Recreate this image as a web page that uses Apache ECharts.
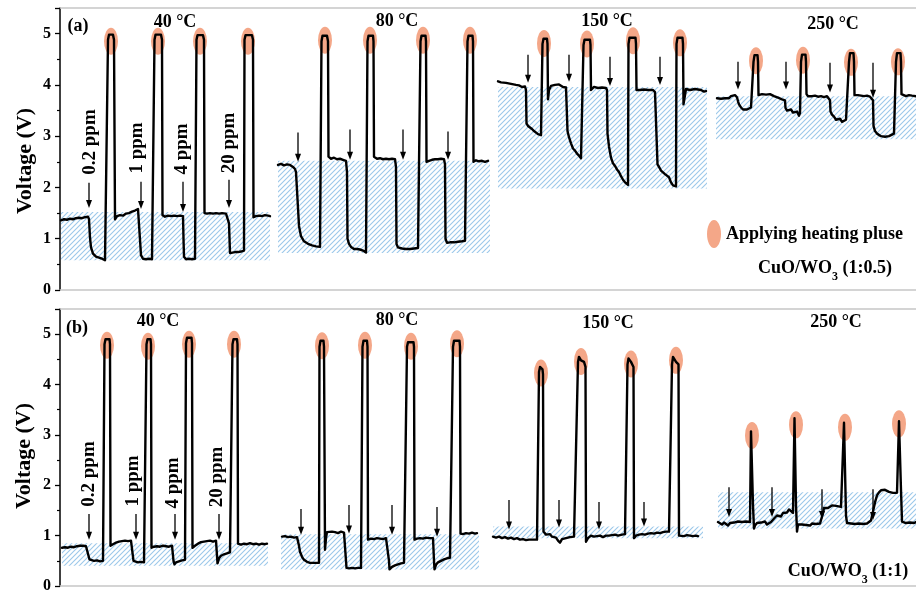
<!DOCTYPE html>
<html><head><meta charset="utf-8">
<script src="https://cdn.jsdelivr.net/npm/echarts@6/dist/echarts.min.js"></script>
<style>html,body{margin:0;padding:0;background:#fff}#c{width:916px;height:594px}</style>
</head><body><div id="c"></div>
<script>
// ---------- DATA ----------
const yTickValues = [0, 1, 2, 3, 4, 5];
const temperatures = ['40 °C', '80 °C', '150 °C', '250 °C'];
const concentrations = ['0.2 ppm', '1 ppm', '4 ppm', '20 ppm'];

// Panel (a) CuO/WO3 (1:0.5): [time, voltage]
const a40 = [[1,1.36],[4,1.38],[7,1.37],[10,1.39],[13,1.38],[16,1.40],[19,1.41],[22,1.40],[25,1.42],[28,1.43],
[29,1.38],[30,1.02],[31,0.83],[33,0.71],[36,0.65],[39,0.63],[42,0.61],[45,0.58],[47,0.59],
[48,4.88],[49,4.98],[53,4.98],[54,4.88],
[55,1.38],[57,1.44],[60,1.46],[63,1.45],[66,1.49],[69,1.50],[72,1.53],[75,1.55],[78,1.58],[80,1.57],
[81,0.68],[83,0.61],[86,0.60],[89,0.61],[92,0.60],[94,0.60],
[94.5,4.88],[95.5,4.98],[101,4.98],[102,4.88],
[102.5,1.46],[105,1.43],[108,1.45],[111,1.44],[114,1.45],[117,1.44],[120,1.45],[123,1.44],
[123.5,1.0],[124,0.65],[126,0.60],[129,0.61],[132,0.60],[135,0.61],[136,0.60],
[136.5,4.88],[137.5,4.97],[143,4.97],[144,4.88],
[144.5,1.50],[147,1.49],[150,1.50],[153,1.49],[156,1.50],[159,1.49],[162,1.50],[166,1.49],[168,1.50],
[169,1.30],[170,0.72],[172,0.70],[175,0.74],[178,0.74],[181,0.75],[184,0.77],
[184.5,4.88],[185.5,4.97],[192,4.97],[193,4.88],
[193.5,1.42],[196,1.44],[199,1.45],[202,1.44],[205,1.46],[208,1.45],[210,1.44]];

const a80 = [[218,2.44],[221,2.46],[224,2.43],[227,2.45],[230,2.44],[233,2.40],[235,2.36],[236,2.30],
[238,1.6],[239,1.25],[241,1.05],[244,0.95],[248,0.90],[252,0.87],[256,0.85],[260,0.84],
[261,0.84],[261.5,4.85],[262.5,4.96],[267,4.96],[268,4.85],
[268.5,2.60],[271,2.56],[274,2.58],[277,2.55],[280,2.56],[283,2.54],[286,2.52],
[287,2.30],[287.5,1.0],[289,0.90],[291,0.84],[294,0.80],[297,0.80],[300,0.79],[303,0.77],[305,0.74],[306,0.73],
[307,0.74],[307.5,4.85],[308.5,4.96],[313,4.96],[313.5,4.85],
[314,2.60],[317,2.56],[320,2.57],[323,2.55],[326,2.56],[329,2.55],[332,2.56],[335,2.55],
[336,2.4],[336.5,0.9],[338,0.83],[342,0.81],[346,0.80],[350,0.80],[354,0.81],[358,0.82],[359,0.83],
[360,0.83],[360.5,4.85],[361.5,4.96],[365.5,4.96],[366,4.85],
[366.5,2.50],[369,2.52],[372,2.54],[375,2.55],[378,2.55],[381,2.56],[384,2.55],
[385,2.45],[385.5,1.0],[387,0.92],[390,0.93],[394,0.93],[398,0.94],[402,0.95],[405,0.96],[407,0.96],
[407.5,4.85],[408.5,4.96],[412.5,4.96],[413,4.85],
[413.5,2.50],[416,2.53],[419,2.51],[422,2.52],[425,2.50],[428,2.52]];

const a150 = [[438,4.07],[441,4.05],[443,4.08],[446,4.04],[448,4.06],[451,4.02],[453,4.05],[456,4.00],[459,3.99],[462,3.96],[464,3.94],[465,3.97],
[466,3.90],[466.5,3.25],[468,3.20],[470,3.18],[472,3.14],[474,3.10],[476,3.08],[478,3.04],[480,3.06],[481,3.02],
[482,3.02],[482.5,4.80],[483.5,4.90],[487,4.90],[487.5,4.80],[488,3.72],
[489,3.90],[491,3.98],[493,3.97],[495,4.00],[497,3.99],[499,4.01],[501,3.98],[503,3.96],[506,3.95],
[507,3.92],[507.5,3.10],[509,2.98],[511,2.86],[513,2.76],[515,2.72],[517,2.66],[519,2.62],[521,2.57],[523,2.55],
[523.5,4.78],[524.5,4.88],[530,4.88],[530.5,4.78],[531,3.9],
[532,3.93],[534,3.96],[536,3.95],[538,3.94],[540,3.96],[542,3.95],[544,3.96],[546,3.94],
[547,3.90],[547.5,3.05],[549,2.80],[551,2.58],[553,2.47],[555,2.42],[557,2.35],[559,2.30],[561,2.22],[563,2.15],[565,2.10],[567,2.12],[568,2.05],
[568.5,4.80],[569.5,4.92],[575.5,4.92],[576,4.80],[576.5,3.90],
[578,3.92],[580,3.90],[582,3.92],[584,3.91],[586,3.89],[588,3.90],[590,3.91],[593,3.90],[595,3.86],
[597,3.84],[597.5,2.45],[599,2.40],[601,2.33],[603,2.30],[605,2.26],[607,2.24],[609,2.20],[611,2.10],[613,2.04],[615,2.05],[616,2.02],
[616.5,4.80],[617.5,4.92],[622.5,4.92],[623,4.80],[623.5,3.62],
[625,3.80],[626,3.92],[628,3.93],[630,3.90],[632,3.93],[635,3.92],[638,3.91],[641,3.90],[644,3.87],[646,3.88]];

const a250 = [[657,3.74],[659,3.76],[661,3.73],[663,3.75],[665,3.74],[667,3.76],[669,3.74],[671,3.78],[673,3.79],[675,3.80],[677,3.76],
[678,3.68],[679,3.62],[681,3.56],[683,3.52],[685,3.55],[687,3.52],[689,3.55],[691,3.56],[693,3.58],
[693.5,4.45],[694.5,4.58],[697.5,4.58],[698,4.45],[698.5,3.8],
[700,3.78],[702,3.82],[704,3.80],[706,3.81],[708,3.79],[710,3.82],[712,3.80],[714,3.78],[716,3.76],[718,3.75],[720,3.74],[722,3.72],[724,3.74],
[725,3.70],[725.5,3.55],[727,3.50],[729,3.48],[731,3.52],[733,3.46],[735,3.44],[737,3.48],[739,3.40],[740,3.45],
[741,4.45],[742,4.59],[745.5,4.59],[746,4.45],[746.5,3.82],
[748,3.78],[750,3.80],[752,3.78],[755,3.79],[758,3.77],[761,3.78],[764,3.76],[767,3.78],[769,3.77],
[770,3.70],[770.5,3.48],[772,3.42],[774,3.38],[776,3.32],[778,3.30],[780,3.34],[782,3.28],[784,3.30],[786,3.32],[788,3.30],
[789,4.45],[790,4.62],[793.5,4.62],[794,4.45],[794.5,3.80],
[796,3.78],[798,3.80],[801,3.79],[804,3.78],[807,3.79],[810,3.77],[812,3.80],
[813,3.70],[813.5,3.20],[815,3.10],[817,3.05],[819,3.02],[821,3.00],[823,3.01],[825,2.99],[827,3.02],[829,3.00],[831,3.03],[834,3.05],[835,3.02],
[836,4.45],[837,4.62],[840.5,4.62],[841,4.45],[841.5,3.82],
[843,3.80],[846,3.78],[849,3.80],[852,3.79],[856,3.78]];

// Panel (b) CuO/WO3 (1:1)
const b40 = [[2,0.76],[5,0.77],[8,0.76],[11,0.78],[14,0.77],[17,0.79],[20,0.80],[23,0.80],[26,0.79],[28,0.78],
[28.5,0.60],[29.5,0.53],[31,0.52],[34,0.50],[37,0.51],[40,0.49],[43,0.50],
[44,0.49],[44.5,4.80],[45.5,4.90],[49.5,4.90],[50,4.80],
[50.5,0.80],[53,0.83],[56,0.86],[59,0.88],[62,0.89],[65,0.90],[68,0.89],[71,0.90],[73,0.88],
[73.5,0.50],[75,0.47],[78,0.47],[81,0.48],[84,0.47],[86,0.47],
[86.5,4.80],[87.5,4.90],[90.5,4.90],[91,4.80],
[91.5,0.76],[94,0.78],[97,0.79],[100,0.78],[103,0.80],[106,0.79],[109,0.78],[112,0.80],[113,0.78],
[113.5,0.50],[114.5,0.43],[116,0.47],[119,0.49],[122,0.51],[124,0.52],[125,0.52],
[126,4.82],[127,4.93],[131.5,4.93],[132,4.82],
[132.5,0.76],[135,0.80],[138,0.84],[141,0.87],[144,0.88],[147,0.89],[150,0.90],[153,0.88],[156,0.90],
[157,0.88],[157.5,0.45],[159,0.55],[161,0.60],[164,0.63],[167,0.65],[170,0.67],[172,0.68],
[172.5,4.80],[173.5,4.90],[177,4.90],[177.5,4.80],
[178,0.84],[181,0.82],[184,0.84],[187,0.83],[190,0.85],[193,0.83],[196,0.84],[199,0.82],[202,0.84],[205,0.83],[207,0.84]];

const b80 = [[222,0.98],[225,0.99],[228,0.97],[231,0.98],[234,0.96],[237,0.97],[238,0.95],
[239,0.80],[240,0.68],[242,0.58],[244,0.52],[247,0.48],[250,0.46],[253,0.46],[256,0.46],[259,0.46],
[259.5,4.75],[260.5,4.87],[263.5,4.87],[264,4.75],[265,0.72],[266,0.95],[267,1.07],
[269,1.06],[272,1.08],[275,1.07],[278,1.05],[281,1.08],[284,1.06],[285,1.05],
[286,0.50],[286.5,0.36],[289,0.35],[292,0.36],[295,0.35],[298,0.36],[301,0.36],
[302.5,4.75],[303.5,4.87],[307,4.87],[307.5,4.75],
[308,0.92],[311,0.94],[314,0.93],[317,0.95],[320,0.94],[323,0.93],[326,0.95],[328,0.94],
[329,0.5],[329.5,0.33],[332,0.38],[335,0.41],[338,0.43],[341,0.45],[344,0.46],[346,0.46],
[347,4.75],[348,4.84],[353.5,4.84],[354,4.75],
[354.5,0.92],[357,0.94],[360,0.95],[363,0.94],[366,0.96],[369,0.95],[373,0.95],
[374,0.5],[374.5,0.33],[376,0.42],[378,0.47],[381,0.50],[384,0.53],[387,0.55],[390,0.56],[392,0.57],
[393,4.75],[394,4.87],[399.5,4.87],[400,4.75],
[400.5,1.04],[403,1.03],[406,1.05],[409,1.04],[412,1.06],[415,1.04],[417,1.05]];

const b150 = [[433,0.98],[436,0.96],[439,0.98],[442,0.95],[445,0.97],[448,0.94],[451,0.96],[454,0.93],[457,0.95],[460,0.92],[463,0.93],[466,0.91],[469,0.92],[477,0.92],
[478.5,0.92],[479,4.25],[480,4.35],[482.5,4.30],[483,4.2],[483.5,1.08],
[486,1.02],[488,1.00],[490,1.03],[492,0.98],[494,0.99],[496,0.96],[498,0.90],[500,0.86],[502,0.93],[504,0.96],[506,0.95],[508,0.98],[510,0.97],[514,0.98],[516,0.98],
[518,4.45],[519,4.55],[521,4.48],[524,4.45],[525.5,4.35],[526,0.88],
[528,0.95],[531,1.00],[534,0.98],[537,0.99],[540,1.00],[543,0.97],[546,1.00],[549,1.00],[552,1.01],[555,1.02],[558,1.00],[562,1.02],[565,1.03],[567,1.02],
[567.5,4.40],[568.5,4.52],[571,4.45],[573.5,4.35],[574,0.95],
[576,1.00],[579,1.02],[582,1.03],[585,1.02],[588,1.04],[591,1.05],[594,1.04],[597,1.06],[600,1.05],[603,1.07],[606,1.08],[609,1.08],[611,1.10],
[612,4.40],[613,4.55],[616,4.45],[618.5,4.40],[619,1.00],
[621,1.00],[624,0.99],[627,1.01],[630,1.00],[633,0.99],[636,1.00],[638,0.99]];

const b250 = [[658,1.27],[660,1.24],[662,1.22],[664,1.26],[666,1.23],[668,1.20],[670,1.25],[672,1.22],[674,1.26],[676,1.24],[678,1.28],[680,1.25],[682,1.27],[684,1.24],[686,1.28],[688,1.26],[690,1.27],
[691,3.07],[692,3.07],[693,1.60],[694,1.14],[695,1.20],
[697,1.25],[699,1.22],[701,1.26],[703,1.24],[705,1.28],[707,1.22],[709,1.25],[711,1.27],[713,1.30],[715,1.36],[717,1.40],[719,1.42],[721,1.38],[723,1.45],[725,1.48],[727,1.46],[729,1.52],[731,1.50],[733,1.45],
[734.5,3.33],[735.5,3.33],[736,1.60],[737,1.08],[738,1.22],
[740,1.25],[742,1.22],[744,1.24],[746,1.21],[748,1.23],[750,1.20],[752,1.24],[754,1.22],[756,1.23],[758,1.21],[760,1.24],[762,1.23],
[763,1.45],[764,1.55],[766,1.57],[768,1.55],[770,1.58],[772,1.60],[774,1.58],[776,1.59],[778,1.60],[781,1.57],[783,1.58],
[784,3.24],[785,3.24],[786,1.40],[787,1.25],
[789,1.27],[791,1.24],[793,1.26],[795,1.23],[797,1.25],[799,1.24],[801,1.27],[803,1.23],[805,1.25],[807,1.24],[809,1.26],[811,1.30],[813,1.28],
[815,1.66],[817,1.80],[819,1.86],[821,1.90],[823,1.88],[825,1.91],[827,1.89],[829,1.87],[831,1.86],[833,1.85],[835,1.84],[837,1.85],
[839,3.27],[840,3.27],[841,1.90],[842,1.28],
[844,1.27],[846,1.25],[848,1.28],[850,1.26],[852,1.27],[854,1.25],[856,1.27]];

// heating pulses (ellipse centres) [time, voltage]
const pulsesA = [[51,4.85],[98,4.85],[140,4.85],[188,4.85],[265,4.87],[310,4.87],[363,4.87],[410,4.87],
                 [484,4.81],[527,4.80],[573,4.86],[620,4.82],[696,4.47],[743,4.48],[791,4.44],[838,4.45]];
const pulsesB = [[47,4.78],[88,4.76],[129,4.80],[174,4.80],[262,4.77],[305,4.78],[351,4.76],[397,4.81],
                 [481,4.23],[521,4.46],[571,4.41],[616,4.48],[692,2.99],[736,3.20],[785,3.15],[839,3.22]];

// gas injection arrows [time, start voltage, tip voltage]
const arrowsA = [[29,2.09,1.60],[81,2.11,1.58],[123,2.11,1.52],[169,2.15,1.60],
                 [238,3.07,2.50],[290,3.13,2.54],[343,3.13,2.54],[388,3.09,2.54],
                 [468,4.59,4.04],[509,4.59,4.06],[550,4.55,3.98],[600,4.55,4.00],
                 [678,4.45,3.91],[726,4.45,3.91],[770,4.43,3.85],[813,4.43,3.75]];
const arrowsB = [[29,1.43,0.92],[76,1.43,0.92],[115,1.43,0.92],[159,1.43,0.92],
                 [241,1.53,1.02],[289,1.61,1.04],[332,1.61,1.02],[377,1.57,0.98],
                 [449,1.71,1.12],[499,1.71,1.16],[539,1.67,1.12],[584,1.67,1.18],
                 [669,1.96,1.37],[712,1.96,1.37],[762,1.92,1.33],[813,1.92,1.31]];

// hatched response regions [t0, t1, vLow, vHigh]
const regionsA = [[1,210,0.58,1.52],[218,430,0.72,2.52],[438,647,1.98,3.96],[656,856,2.94,3.78]];
const regionsB = [[2,208,0.40,0.85],[221,419,0.33,1.03],[433,643,0.95,1.18],[658,856,1.14,1.86]];

// ---------- CHART ----------
const SERIF = '"Liberation Serif","Times New Roman",serif';
function makeHatch() {
  const c = document.createElement('canvas');
  c.width = 5; c.height = 5;
  const g = c.getContext('2d');
  g.strokeStyle = '#9cc8ea'; g.lineWidth = 1.1;
  g.beginPath();
  g.moveTo(0, 5); g.lineTo(5, 0);
  g.moveTo(-1, 1); g.lineTo(1, -1);
  g.moveTo(4, 6); g.lineTo(6, 4);
  g.stroke();
  return c;
}
const hatch = makeHatch();

const chart = echarts.init(document.getElementById('c'), null, {renderer: 'canvas'});

function xAxes(gi) {
  const base = {type: 'value', min: 0, max: 856, gridIndex: gi,
    axisLine: {show: true, lineStyle: {color: '#c6c6c6', width: 1.5}},
    axisTick: {show: false}, axisLabel: {show: false}, splitLine: {show: false}};
  return [Object.assign({position: 'bottom'}, base), Object.assign({position: 'top'}, base)];
}
function yAxis(gi) {
  return {type: 'value', min: 0, max: 5.5, interval: 1, gridIndex: gi,
    axisLine: {show: true, onZero: false, lineStyle: {color: '#000', width: 1.5}},
    axisTick: {show: true, inside: false, length: 5, lineStyle: {color: '#000', width: 1.3}},
    minorTick: {show: true, splitNumber: 2, length: 3, lineStyle: {color: '#000', width: 1.2}},
    splitLine: {show: false},
    axisLabel: {show: true, margin: 9, color: '#000', fontFamily: SERIF, fontWeight: 'bold', fontSize: 16,
      showMaxLabel: false, formatter: v => yTickValues.includes(v) ? String(v) : ''}};
}

function rectSeries(data, xi, yi) {
  return {type: 'custom', xAxisIndex: xi, yAxisIndex: yi, z: 1, silent: true, data: data,
    encode: {x: [0, 1], y: [2, 3]},
    renderItem: (params, api) => {
      const p1 = api.coord([api.value(0), api.value(3)]);
      const p2 = api.coord([api.value(1), api.value(2)]);
      return {type: 'rect', shape: {x: p1[0], y: p1[1], width: p2[0] - p1[0], height: p2[1] - p1[1]},
        style: {fill: {image: hatch, repeat: 'repeat'}}};
    }};
}
function arrowSeries(data, xi, yi) {
  return {type: 'custom', xAxisIndex: xi, yAxisIndex: yi, z: 6, silent: true, data: data,
    encode: {x: 0, y: [1, 2]},
    renderItem: (params, api) => {
      const x = api.value(0);
      const p1 = api.coord([x, api.value(1)]);
      const p2 = api.coord([x, api.value(2)]);
      const h = 8, w = 3;
      return {type: 'group', children: [
        {type: 'line', shape: {x1: p1[0], y1: p1[1], x2: p2[0], y2: p2[1] - h + 1}, style: {stroke: '#000', lineWidth: 1.3}},
        {type: 'polygon', shape: {points: [[p2[0] - w, p2[1] - h], [p2[0] + w, p2[1] - h], [p2[0], p2[1]]]}, style: {fill: '#000'}}
      ]};
    }};
}
function pulseSeries(data, xi, yi) {
  return {type: 'scatter', xAxisIndex: xi, yAxisIndex: yi, z: 2, silent: true, data: data,
    symbol: 'circle', symbolSize: [14, 27], itemStyle: {color: '#f4a788', opacity: 1}};
}
function lineSeries(data, xi, yi) {
  return {type: 'line', xAxisIndex: xi, yAxisIndex: yi, z: 5, silent: true, data: data,
    showSymbol: false, symbol: 'none',
    lineStyle: {color: '#000', width: 2.4, join: 'round', cap: 'round'}};
}

const series = [
  rectSeries(regionsA, 0, 0), rectSeries(regionsB, 2, 1),
  pulseSeries(pulsesA, 0, 0), pulseSeries(pulsesB, 2, 1),
  lineSeries(a40, 0, 0), lineSeries(a80, 0, 0), lineSeries(a150, 0, 0), lineSeries(a250, 0, 0),
  lineSeries(b40, 2, 1), lineSeries(b80, 2, 1), lineSeries(b150, 2, 1), lineSeries(b250, 2, 1),
  arrowSeries(arrowsA, 0, 0), arrowSeries(arrowsB, 2, 1)
];

function txt(text, x, y, size, opts) {
  return Object.assign({type: 'text', x: x, y: y, silent: true, z: 10,
    style: {text: text, fill: '#000', font: 'bold ' + size + 'px ' + SERIF, align: 'center', verticalAlign: 'middle'}}, opts || {});
}
const R = Math.PI / 2;
const tempPosA = [[175, 22], [397, 21], [607, 21], [833, 24]];
const tempPosB = [[158, 321], [397, 320], [608, 323], [836, 322]];
const ppmPosA = [[90, 142], [137, 148], [182, 149], [229, 143]];
const ppmPosB = [[89, 474], [133, 481], [173, 483], [217, 477]];
const graphics = [
  txt('Voltage (V)', 25, 161, 22, {rotation: R}),
  txt('Voltage (V)', 24, 456, 22, {rotation: R}),
  txt('(a)', 78, 26, 18), txt('(b)', 77, 328, 18)
];
temperatures.forEach((t, i) => {
  graphics.push(txt(t, tempPosA[i][0], tempPosA[i][1], 18));
  graphics.push(txt(t, tempPosB[i][0], tempPosB[i][1], 18));
});
concentrations.forEach((c, i) => {
  graphics.push(txt(c, ppmPosA[i][0], ppmPosA[i][1], 19, {rotation: R}));
  graphics.push(txt(c, ppmPosB[i][0], ppmPosB[i][1], 19, {rotation: R}));
});
graphics.push({type: 'ellipse', shape: {cx: 714, cy: 234, rx: 7, ry: 14}, style: {fill: '#f4a788'}, silent: true, z: 10});
graphics.push(txt('Applying heating pluse', 726, 234, 18, {}));
graphics[graphics.length - 1].style.align = 'left';
function formula(ratio, x, y) {
  return {type: 'text', x: x, y: y, silent: true, z: 10,
    style: {text: '{a|CuO/WO}{b|3}{a| (' + ratio + ')}', align: 'center', verticalAlign: 'middle',
      rich: {a: {fontFamily: SERIF, fontWeight: 'bold', fontSize: 18, fill: '#000', color: '#000', lineHeight: 22},
             b: {fontFamily: SERIF, fontWeight: 'bold', fontSize: 12, fill: '#000', color: '#000', lineHeight: 29, verticalAlign: 'bottom'}}}};
}
graphics.push(formula('1:0.5', 825, 268));
graphics.push(formula('1:1', 848, 571));

chart.setOption({
  animation: false,
  backgroundColor: '#fff',
  grid: [{left: 60, right: 0, top: 8, height: 282}, {left: 60, right: 0, top: 309, height: 281}],
  xAxis: [].concat(xAxes(0), xAxes(1)),
  yAxis: [yAxis(0), yAxis(1)],
  series: series,
  graphic: graphics
});
</script></body></html>
